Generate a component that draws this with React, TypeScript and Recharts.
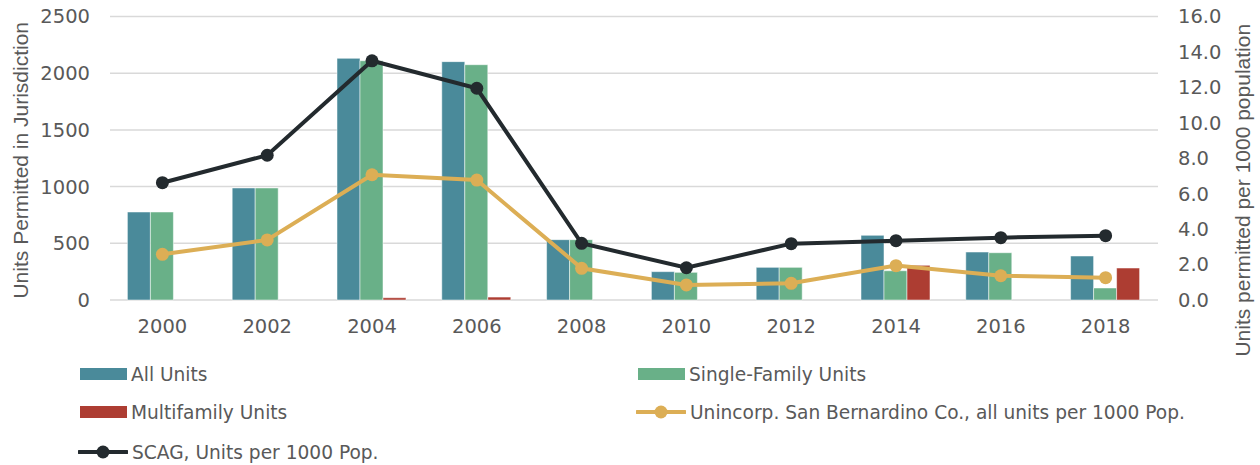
import { ComposedChart, Bar, Line, XAxis, YAxis, CartesianGrid } from "recharts";

const years = ["2000", "2002", "2004", "2006", "2008", "2010", "2012", "2014", "2016", "2018"];
const allUnits = [776, 988, 2131, 2102, 532, 250, 288, 570, 423, 388];
const singleFamily = [776, 988, 2110, 2075, 532, 244, 288, 258, 417, 106];
const multifamily = [0, 0, 20, 26, 0, 0, 0, 306, 0, 282];
const unincorpRate = [2.58, 3.39, 7.07, 6.77, 1.79, 0.85, 0.94, 1.94, 1.37, 1.26];
const scagRate = [6.62, 8.17, 13.5, 11.95, 3.2, 1.82, 3.18, 3.35, 3.52, 3.63];

const leftTicks = [0, 500, 1000, 1500, 2000, 2500];
const rightTicks = [0, 2, 4, 6, 8, 10, 12, 14, 16];

const C_ALL = "#4a8a9a";
const C_SF = "#69b088";
const C_MF = "#ad3d32";
const C_UNI = "#dcae55";
const C_SCAG = "#232a2e";
const TXT = "#595959";

const data = years.map((y, i) => ({
  year: y,
  all: allUnits[i],
  sf: singleFamily[i],
  mf: multifamily[i],
  uni: unincorpRate[i],
  scag: scagRate[i],
}));

const titleFont = { fontFamily: "'Liberation Sans', Arial, sans-serif", fontSize: 21, fill: TXT };

function LeftTitle(props: any) {
  const vb = props.viewBox;
  const x = vb.x + 28;
  const y = vb.y + vb.height / 2 + 2;
  return (
    <text x={x} y={y} transform={`rotate(-90 ${x} ${y})`} textAnchor="middle" style={titleFont}>
      Units Permitted in Jurisdiction
    </text>
  );
}

function RightTitle(props: any) {
  const vb = props.viewBox;
  const x = vb.x + vb.width - 10.5;
  const y = vb.y + vb.height / 2 + 32;
  return (
    <text x={x} y={y} transform={`rotate(-90 ${x} ${y})`} textAnchor="middle" style={titleFont}>
      Units permitted per 1000 population
    </text>
  );
}

function Swatch({ color }: { color: string }) {
  return <span style={{ display: "inline-block", width: 47, height: 12, background: color, marginRight: 4 }} />;
}

function LineKey({ color }: { color: string }) {
  return (
    <svg width={50} height={16} style={{ marginRight: 4 }}>
      <line x1={1} y1={8} x2={49} y2={8} stroke={color} strokeWidth={4} strokeLinecap="round" />
      <circle cx={25} cy={8} r={6.5} fill={color} />
    </svg>
  );
}

const legendRows = [
  { label: "All Units", color: C_ALL, kind: "bar", left: 80, top: 374 },
  { label: "Single-Family Units", color: C_SF, kind: "bar", left: 638, top: 374 },
  { label: "Multifamily Units", color: C_MF, kind: "bar", left: 80, top: 412 },
  { label: "Unincorp. San Bernardino Co., all units per 1000 Pop.", color: C_UNI, kind: "line", left: 636, top: 412 },
  { label: "SCAG, Units per 1000 Pop.", color: C_SCAG, kind: "line", left: 78, top: 452 },
];

export default function App() {
  return (
    <div
      style={{
        position: "absolute",
        left: 0,
        top: 0,
        width: 1260,
        height: 465,
        background: "#fff",
        fontFamily: "'DejaVu Sans', sans-serif",
      }}
    >
      <ComposedChart
        width={1260}
        height={465}
        data={data}
        margin={{ top: 16.5, right: 0, bottom: 135, left: 0 }}
        barCategoryGap="16.6%"
        barGap={0}
      >
        <CartesianGrid yAxisId="left" vertical={false} stroke="#d9d9d9" strokeWidth={1.5} />
        <XAxis
          dataKey="year"
          height={30}
          axisLine={false}
          tickLine={false}
          tickSize={8}
          tickMargin={11}
          tick={{ fontSize: 19.5, fill: TXT }}
        />
        <YAxis
          yAxisId="left"
          width={110}
          domain={[0, 2500]}
          ticks={leftTicks}
          axisLine={false}
          tickLine={false}
          tickSize={8}
          tickMargin={12}
          tick={{ fontSize: 19.5, fill: TXT }}
          label={LeftTitle}
        />
        <YAxis
          yAxisId="right"
          orientation="right"
          width={102}
          domain={[0, 16]}
          ticks={rightTicks}
          tickFormatter={(v: number) => v.toFixed(1)}
          axisLine={false}
          tickLine={false}
          tickSize={8}
          tickMargin={12}
          tick={{ fontSize: 19.5, fill: TXT }}
          label={RightTitle}
        />
        <Bar yAxisId="left" dataKey="all" name="All Units" fill={C_ALL} stroke="#fff" strokeWidth={0.5} isAnimationActive={false} />
        <Bar yAxisId="left" dataKey="sf" name="Single-Family Units" fill={C_SF} stroke="#fff" strokeWidth={0.5} isAnimationActive={false} />
        <Bar yAxisId="left" dataKey="mf" name="Multifamily Units" fill={C_MF} stroke="#fff" strokeWidth={0.5} isAnimationActive={false} />
        <Line
          yAxisId="right"
          dataKey="uni"
          name="Unincorp. San Bernardino Co., all units per 1000 Pop."
          stroke={C_UNI}
          strokeWidth={4}
          dot={{ r: 6.5, fill: C_UNI, stroke: C_UNI, strokeWidth: 0 }}
          isAnimationActive={false}
        />
        <Line
          yAxisId="right"
          dataKey="scag"
          name="SCAG, Units per 1000 Pop."
          stroke={C_SCAG}
          strokeWidth={4}
          dot={{ r: 6.5, fill: C_SCAG, stroke: C_SCAG, strokeWidth: 0 }}
          isAnimationActive={false}
        />
      </ComposedChart>
      {legendRows.map((r) => (
        <div
          key={r.label}
          style={{
            position: "absolute",
            left: r.left,
            top: r.top - 12,
            height: 24,
            display: "flex",
            alignItems: "center",
            fontSize: 18.6,
            color: TXT,
            whiteSpace: "nowrap",
          }}
        >
          {r.kind === "bar" ? <Swatch color={r.color} /> : <LineKey color={r.color} />}
          <span>{r.label}</span>
        </div>
      ))}
    </div>
  );
}
